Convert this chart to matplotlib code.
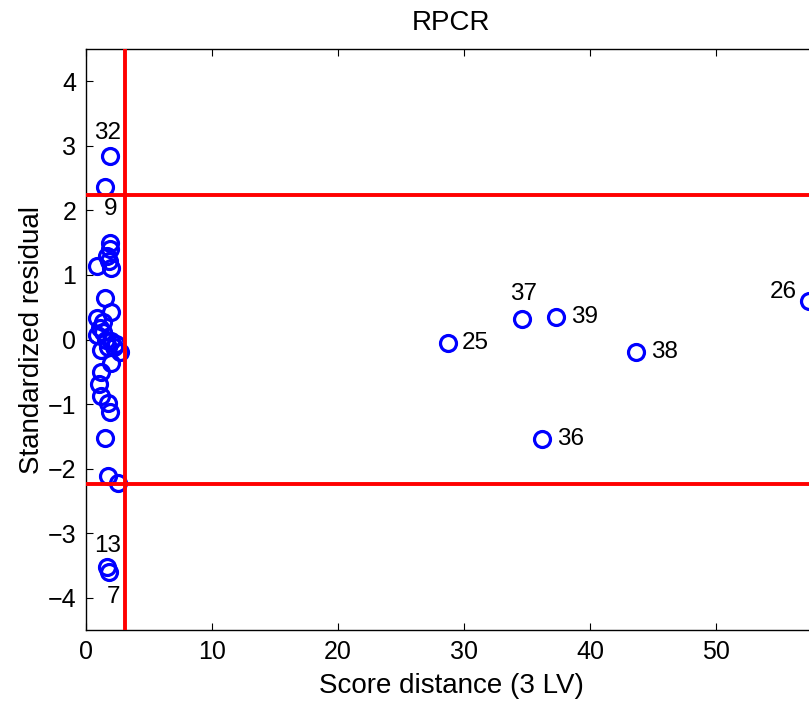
import numpy as np
import matplotlib.pyplot as plt

plt.rcParams['font.family'] = ['Liberation Sans', 'DejaVu Sans']
plt.rcParams['axes.unicode_minus'] = True

# unlabeled observations (score distance, standardized residual)
sd_plain = [1.9, 1.9, 1.7, 1.8, 0.85, 1.95,
            1.5, 2.0, 0.9, 1.35, 1.1, 1.35, 0.9, 1.6, 2.0, 2.4, 2.7,
            1.2, 1.75, 2.2, 2.0, 1.2, 1.0, 1.2, 1.75, 1.9, 1.5, 1.75, 2.5]
res_plain = [1.50, 1.40, 1.30, 1.22, 1.14, 1.10,
             0.65, 0.42, 0.34, 0.27, 0.18, 0.12, 0.07, 0.0, -0.03, -0.07, -0.19,
             -0.16, -0.12, -0.12, -0.36, -0.50, -0.69, -0.87, -0.99, -1.13, -1.52, -2.12, -2.22]

# labeled observations
obs_labels = ['32', '9', '13', '7', '25', '37', '39', '38', '36', '26']
sd_lab = [1.9, 1.5, 1.7, 1.8, 28.7, 34.6, 37.3, 43.65, 36.2, 57.4]
res_lab = [2.84, 2.37, -3.53, -3.60, -0.05, 0.32, 0.35, -0.20, -1.54, 0.60]

sd_cut = 3.0575     # sqrt(chi2_3(0.975))
res_cut = 2.2414    # sqrt(chi2_1(0.975))

# label placement (pixels offset, alignment)
lab_pos = {'32': (-2, 23, 'center'), '9': (6, -22, 'center'),
           '13': (0, 21, 'center'), '7': (5, -25, 'center'),
           '25': (14, 0, 'left'), '37': (2, 25, 'center'),
           '39': (15, 0, 'left'), '38': (15, 0, 'left'),
           '36': (15, 0, 'left'), '26': (-13, 9, 'right')}

fig = plt.figure(figsize=(8.09, 7.02), dpi=100)
ax = fig.add_axes([86/809, 72/702, 730/809, 581/702])

ax.plot(sd_plain + sd_lab, res_plain + res_lab, 'o', mfc='none', mec=(0, 0, 1),
        ms=11.5, mew=2.3, zorder=3)

ax.axvline(sd_cut, color=(1, 0, 0), lw=2.8, zorder=4)
ax.axhline(res_cut, color=(1, 0, 0), lw=2.8, zorder=4)
ax.axhline(-res_cut, color=(1, 0, 0), lw=2.8, zorder=4)

for lab, x, y in zip(obs_labels, sd_lab, res_lab):
    dx, dy, ha = lab_pos[lab]
    ax.annotate(lab, (x, y), xytext=(dx, dy), textcoords='offset pixels',
                ha=ha, va='center', fontsize=17.5)

ax.set_xlim(0, 57.93)
ax.set_ylim(-4.5, 4.5)
ax.set_xticks([0, 10, 20, 30, 40, 50])
ax.set_yticks([-4, -3, -2, -1, 0, 1, 2, 3, 4])
ax.tick_params(direction='in', length=5, width=0.8, labelsize=18, pad=7,
               top=True, right=True)
for s in ax.spines.values():
    s.set_linewidth(1.0)

ax.set_xlabel('Score distance (3 LV)', fontsize=20, labelpad=7)
ax.set_ylabel('Standardized residual', fontsize=20, labelpad=2)
ax.set_title('RPCR', fontsize=20, pad=14)

fig.savefig('out.png', dpi=100)
